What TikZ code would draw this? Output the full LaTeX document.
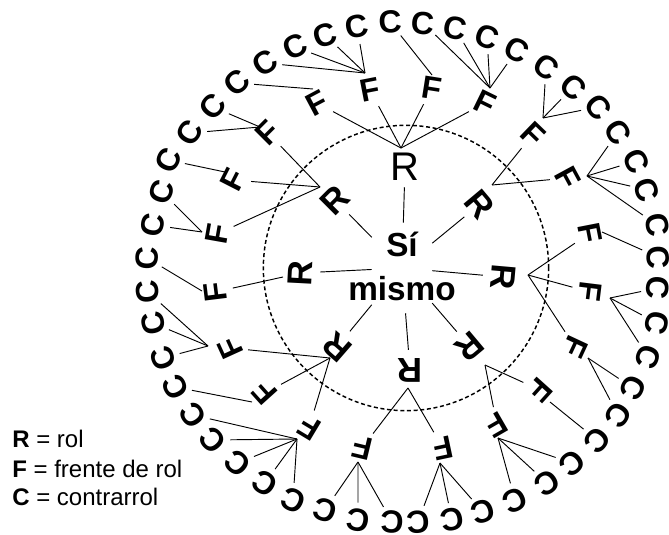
\documentclass[tikz,border=0pt]{standalone}
\usepackage{fontspec}
\setmainfont{Liberation Sans}
\begin{document}
\begin{tikzpicture}[x=0.75pt,y=-0.75pt,
  lbl/.style={font=\fontsize{24}{28}\selectfont\bfseries, inner sep=0pt, circle},
  rnode/.style={lbl, font=\fontsize{26}{30}\selectfont\bfseries, minimum size=30pt},
  fnode/.style={lbl, minimum size=27pt},
  cnode/.style={lbl, minimum size=25.5pt},
  link/.style={line width=0.7pt},
  legend/.style={anchor=base west, inner sep=0pt, font=\fontsize{18}{22}\selectfont}
]
\useasboundingbox (0,0) rectangle (669,535);

% dashed circle
\node[circle, draw, dash pattern=on 3pt off 2pt, line width=1.1pt, minimum size=214pt, inner sep=0pt] (ring) at (406,268) {};

% centre
\node[font=\fontsize{25}{33}\selectfont\bfseries, align=center, inner sep=0pt] (self) at (402,266) {Sí\\mismo};
\node[minimum width=45pt, minimum height=67.5pt, inner sep=0pt] (hub) at (402,268) {};

% roles
\node[rnode, font=\fontsize{30}{34}\selectfont, rotate=0] (r1) at (405,167) {R};
\node[rnode, rotate=-50]  (r2) at (480,204) {R};
\node[rnode, rotate=-95]  (r3) at (503,277) {R};
\node[rnode, rotate=-140] (r4) at (470,347) {R};
\node[rnode, rotate=180]  (r5) at (410,370) {R};
\node[rnode, rotate=139]  (r6) at (337,347) {R};
\node[rnode, rotate=87]   (r7) at (300,273) {R};
\node[rnode, rotate=45]   (r8) at (335,200) {R};

% fronts
\foreach \i/\x/\y/\r in {1/432/88/-9, 2/485/103/-26, 3/533/134/-44, 4/568/178/-61.5,
  5/590/233/-79, 6/590/292/-97, 7/575/347/-115, 8/540/390/-132, 9/497/425/-150,
  10/443/448/-168, 11/362/448/166.5, 12/309/428/149, 13/265/393/132, 14/230/348/114.5,
  15/215/292/97, 16/217/234/80, 17/233/180/63, 18/268/133/45, 19/317/103/28, 20/370/90/11}
  \node[fnode, rotate=\r] (f\i) at (\x,\y) {F};

% counter-roles
\foreach \i/\x/\y/\a in {1/147/258/177.1, 2/153/225/169.6, 3/162/192/161.85, 4/168/160/154.7,
  5/190/133/147.1, 6/213/107/139.2, 7/237/83/131.4, 8/265/63/123.6, 9/295/47/115.7,
  10/325/35/108.3, 11/357/27/100.7, 12/390/22/93, 13/423/23/85.4, 14/455/28/77.9,
  15/487/37/70.3, 16/517/50/62.7, 17/546/67/55, 18/573/87/47.3, 19/598/107/40.1,
  20/618/132/32.9, 21/636/161/25.3, 22/647/190/18.4, 23/657/225/10.3, 24/658/257/3.1,
  25/658/288/-3.8, 26/657/323/-11.6, 27/648/357/-19.3, 28/633/388/-27, 29/618/415/-33.8,
  30/597/440/-41.1, 31/572/463/-48.6, 32/547/483/-55.8, 33/515/500/-63.9, 34/483/512/-71.6,
  35/452/520/-78.9, 36/418/522/-86.6, 37/392/522/-92.5, 38/358/520/-100.2, 39/325/510/-108.1,
  40/293/500/-115.5, 41/265/483/-123.1, 42/238/463/-130.7, 43/213/440/-138.35,
  44/193/415/-145.6, 45/175/387/-153, 46/163/358/-160.1, 47/153/323/-168.25, 48/148/292/-175.3}
  \node[cnode, rotate=\a-90] (c\i) at (\x,\y) {C};

% apex points of the role fans
\coordinate (ra1) at (401,148);
\coordinate (ra2) at (492,185);
\coordinate (ra3) at (528,275);
\coordinate (ra4) at (485,365);
\coordinate (ra5) at (408,388);
\coordinate (ra6) at (330,358);
\coordinate (ra7) at (283,277);
\coordinate (ra8) at (320,187);

% apex points of the front fans
\foreach \i/\x/\y in {1/432/75, 2/490/88, 3/543/118, 4/587/176, 5/602/232, 6/610/298,
  7/588/358, 8/550/402, 9/498/438, 10/440/463, 11/358/462, 12/297/439, 13/252/402,
  14/208/346, 15/202/291, 16/202/232, 17/225/172, 18/260/127, 19/313/89, 20/365/73}
  \coordinate (fa\i) at (\x,\y);

% self -> roles
\foreach \r in {1,...,8} \draw[link] (hub) -- (r\r);

% roles -> fronts
\foreach \r/\f in {1/19, 1/20, 1/1, 1/2, 2/3, 2/4, 3/5, 3/6, 3/7, 4/8, 4/9, 5/10, 5/11,
  6/12, 6/13, 6/14, 7/15, 8/16, 8/17, 8/18}
  \draw[link] (ra\r) -- (f\f);

% fronts -> counter-roles
\foreach \f/\c in {1/12, 2/13, 2/14, 2/15, 2/16, 3/17, 3/18, 3/19, 4/20, 4/21, 4/22, 4/23,
  5/24, 6/25, 6/26, 6/27, 7/28, 7/29, 8/30, 9/31, 9/32, 9/33, 10/34, 10/35, 10/36,
  11/37, 11/38, 11/39, 12/40, 12/41, 12/42, 12/43, 12/44, 13/45, 14/46, 14/47, 14/48,
  15/1, 16/2, 16/3, 17/4, 18/5, 18/6, 19/7, 20/8, 20/9, 20/10, 20/11}
  \draw[link] (fa\f) -- (c\c);

% legend
\node[legend] (legR) at (12,447) {\textbf{R} = rol};
\node[legend] (legF) at (12,477) {\textbf{F} = frente de rol};
\node[legend] (legC) at (12,505) {\textbf{C} = contrarrol};
\end{tikzpicture}
\end{document}
